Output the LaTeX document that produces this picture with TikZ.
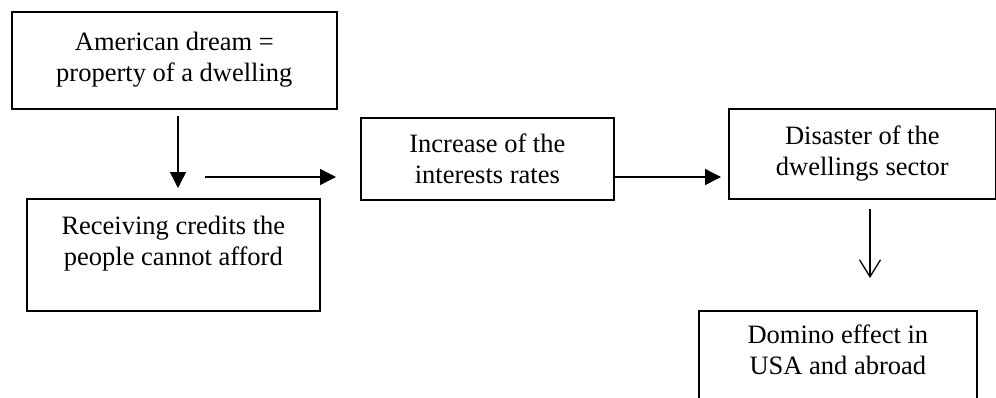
\documentclass[tikz,border=0pt]{standalone}
\usepackage{fontspec}
\setmainfont{Liberation Serif}
\usetikzlibrary{arrows.meta}
\tikzset{
  flowbox/.style={draw, line width=1.7pt, inner sep=0pt, anchor=north west},
  fillarrow/.style={line width=1.4pt, -{Triangle[length=16pt,width=16pt]}},
  openarrow/.style={line width=1.3pt, -{Straight Barb[length=17pt,width=21pt,line width=1.3pt]}}
}
\newcommand{\boxtext}[4]{\parbox[t][#2pt][t]{#1pt}{\centering\fontsize{26.5}{31}\selectfont\rule{0pt}{#3pt}#4}}
\begin{document}
\begin{tikzpicture}[x=1pt,y=-1pt]
\clip (0,0) rectangle (996,397);
\fill[white] (0,0) rectangle (996,397);
\node[flowbox] (b1) at (11,11) {\boxtext{325}{97}{39}{American dream =\\property of a dwelling}};
\node[flowbox] (b2) at (26,198) {\boxtext{293}{112}{36}{Receiving credits the\\people cannot afford}};
\node[flowbox] (b3) at (360,117) {\boxtext{253}{82}{35}{Increase of the\\interests rates}};
\node[flowbox] (b4) at (728,108) {\boxtext{267}{90}{36}{Disaster of the\\dwellings sector}};
\node[flowbox] (b5) at (698,310) {\boxtext{278}{120}{33}{Domino effect in\\USA and abroad}};
\coordinate (a1s) at (178,116);
\coordinate (a1e) at (178,188);
\coordinate (a2s) at (205,177);
\coordinate (a2e) at (336,177);
\coordinate (a3s) at (b3.east |- 0,177);
\coordinate (a3e) at (721,177);
\coordinate (a4s) at (870,209);
\coordinate (a4e) at (870,278);
\draw[fillarrow] (a1s) -- (a1e);
\draw[fillarrow] (a2s) -- (a2e);
\draw[fillarrow] (a3s) -- (a3e);
\draw[openarrow] (a4s) -- (a4e);
\end{tikzpicture}
\end{document}
